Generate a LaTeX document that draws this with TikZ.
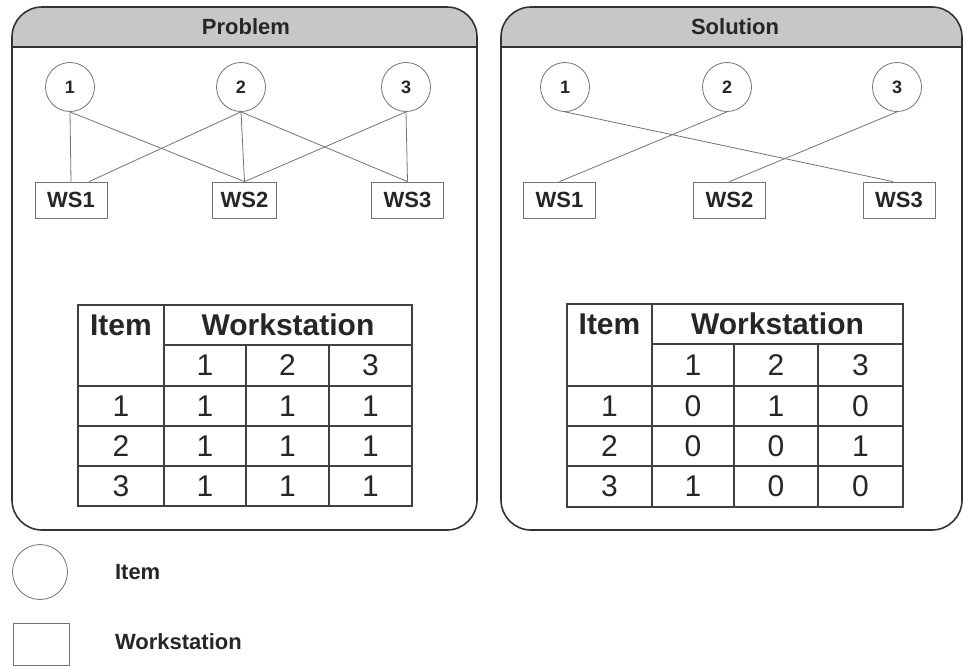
\documentclass[tikz,border=0pt]{standalone}
\usepackage{fontspec}
\setmainfont{Liberation Sans}
\begin{document}
\begin{tikzpicture}[x=0.5pt,y=-0.5pt,
	item/.style={circle,draw=black!55,thin,minimum size=24.5pt,inner sep=0pt,text=black!85,font=\fontsize{9}{10}\selectfont\bfseries},
	wsbox/.style={rectangle,draw=black!55,thin,minimum width=36pt,minimum height=18pt,inner sep=0pt,text=black!85,font=\fontsize{11}{12}\selectfont\bfseries},
	link/.style={draw=black!55,thin},
	panel/.style={draw=black!80,line width=0.8pt,rounded corners=15pt},
	panelline/.style={draw=black!80,line width=0.8pt},
	hdr/.style={fill=black!22},
	header/.style={text=black!85,font=\fontsize{11}{12}\selectfont\bfseries},
	cell/.style={text=black!85,font=\fontsize{15}{16}\selectfont},
	headcell/.style={text=black!85,font=\fontsize{15}{16}\selectfont\bfseries},
	tabline/.style={draw=black!75,line width=0.7pt}]
	\useasboundingbox (0,0) rectangle (963,665);

	% panels
	\begin{scope}
		\clip[rounded corners=15pt] (12,7) rectangle (477,530);
		\fill[hdr] (12,7) rectangle (477,47);
	\end{scope}
	\draw[panel] (12,7) rectangle (477,530);
	\draw[panelline] (12,47) -- (477,47);
	\node[header](probhead) at (246,27){Problem};

	\begin{scope}
		\clip[rounded corners=15pt] (501,7) rectangle (962,530);
		\fill[hdr] (501,7) rectangle (962,47);
	\end{scope}
	\draw[panel] (501,7) rectangle (962,530);
	\draw[panelline] (501,47) -- (962,47);
	\node[header](solhead) at (735,27){Solution};

	% problem graph
	\node[item](pi1) at (70,87){1};
	\node[item](pi2) at (241,87){2};
	\node[item](pi3) at (406,87){3};
	\node[wsbox](pws1) at (71,200){WS1};
	\node[wsbox,minimum width=32pt](pws2) at (244.5,200){WS2};
	\node[wsbox](pws3) at (407.5,200){WS3};
	\draw[link](pi1.south)--(pws1.north);
	\draw[link](pi1.south)--(pws2.north);
	\draw[link](pi2.south)--([xshift=9pt]pws1.north);
	\draw[link](pi2.south)--(pws2.north);
	\draw[link](pi2.south)--(pws3.north);
	\draw[link](pi3.south)--(pws2.north);
	\draw[link](pi3.south)--(pws3.north);

	% solution graph
	\node[item](si1) at (565,87){1};
	\node[item](si2) at (727,87){2};
	\node[item](si3) at (897,87){3};
	\node[wsbox](sws1) at (559.5,200){WS1};
	\node[wsbox](sws2) at (729.5,200){WS2};
	\node[wsbox](sws3) at (899,200){WS3};
	\draw[link](si1.south)--([xshift=-3pt]sws3.north);
	\draw[link](si2.south)--(sws1.north);
	\draw[link](si3.south)--(sws2.north);

	% problem table
	\begin{scope}[shift={(78,0)}]
		\draw[tabline] (0,305) rectangle (334,506);
		\draw[tabline] (86,305) -- (86,506);
		\draw[tabline] (86,345) -- (334,345);
		\draw[tabline] (168,345) -- (168,506) (251,345) -- (251,506);
		\foreach \y in {386,426,466} \draw[tabline] (0,\y) -- (334,\y);
		\node[headcell](pitem) at (43,325){Item};
		\node[headcell](pwork) at (210,325){Workstation};
		\foreach \c/\x in {1/127,2/209.5,3/292.5}
			\node[cell](pcol\c) at (\x,365.5){\c};
		\foreach \r/\a/\b/\c in {1/1/1/1,2/1/1/1,3/1/1/1}{
			\node[cell](prow\r) at (43,366+40*\r){\r};
			\node[cell](p\r a) at (127,366+40*\r){\a};
			\node[cell](p\r b) at (209.5,366+40*\r){\b};
			\node[cell](p\r c) at (292.5,366+40*\r){\c};
		}
	\end{scope}

	% solution table
	\begin{scope}[shift={(567,0)}]
		\draw[tabline] (0,304) rectangle (336,507);
		\draw[tabline] (85,304) -- (85,507);
		\draw[tabline] (85,344) -- (336,344);
		\draw[tabline] (167,344) -- (167,507) (251,344) -- (251,507);
		\foreach \y in {386,426,466} \draw[tabline] (0,\y) -- (336,\y);
		\node[headcell](sitem) at (42.5,324){Item};
		\node[headcell](swork) at (210.5,324){Workstation};
		\foreach \c/\x in {1/126,2/209,3/293.5}
			\node[cell](scol\c) at (\x,365){\c};
		\foreach \r/\a/\b/\c in {1/0/1/0,2/0/0/1,3/1/0/0}{
			\node[cell](srow\r) at (42.5,366+40*\r){\r};
			\node[cell](s\r a) at (126,366+40*\r){\a};
			\node[cell](s\r b) at (209,366+40*\r){\b};
			\node[cell](s\r c) at (293.5,366+40*\r){\c};
		}
	\end{scope}

	% legend
	\node[item,minimum size=27.5pt](legitem) at (40,572){};
	\node[header,anchor=west](legitemtxt) at (108,572){Item};
	\node[wsbox,minimum width=28pt,minimum height=21pt](legws) at (41,644){};
	\node[header,anchor=west](legwstxt) at (108,642){Workstation};
\end{tikzpicture}
\end{document}
